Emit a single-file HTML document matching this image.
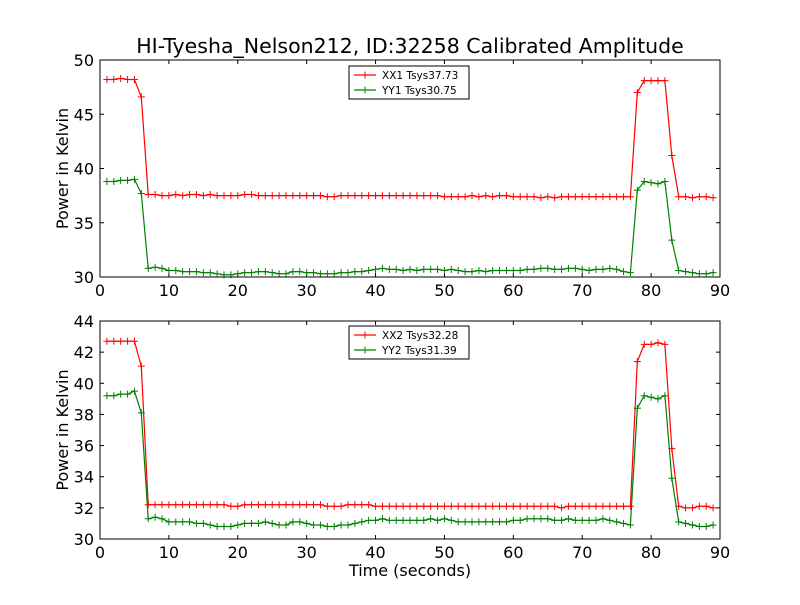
<!DOCTYPE html>
<html><head><meta charset="utf-8"><style>
body{margin:0;background:#fff}
svg{font-family:"DejaVu Sans","Liberation Sans",sans-serif}
</style></head><body>
<svg id="c" width="800" height="600"></svg>
<script>
const times = Array.from({length:89},(_,i)=>i+1);
const xx1 = [48.2,48.2,48.3,48.2,48.2,46.6,37.6,37.6,37.5,37.5,37.6,37.5,37.6,37.6,37.5,37.6,37.5,37.5,37.5,37.5,37.6,37.6,37.5,37.5,37.5,37.5,37.5,37.5,37.5,37.5,37.5,37.5,37.4,37.4,37.5,37.5,37.5,37.5,37.5,37.5,37.5,37.5,37.5,37.5,37.5,37.5,37.5,37.5,37.5,37.4,37.4,37.4,37.4,37.5,37.4,37.5,37.4,37.5,37.5,37.4,37.4,37.4,37.4,37.3,37.4,37.3,37.4,37.4,37.4,37.4,37.4,37.4,37.4,37.4,37.4,37.4,37.4,47.0,48.1,48.1,48.1,48.1,41.2,37.4,37.4,37.3,37.4,37.4,37.3];
const yy1 = [38.8,38.8,38.9,38.9,39.0,37.7,30.8,30.9,30.8,30.6,30.6,30.5,30.5,30.5,30.4,30.4,30.3,30.2,30.2,30.3,30.4,30.4,30.5,30.5,30.4,30.3,30.3,30.5,30.5,30.4,30.4,30.3,30.3,30.3,30.4,30.4,30.5,30.5,30.6,30.7,30.8,30.7,30.7,30.6,30.7,30.6,30.7,30.7,30.7,30.6,30.7,30.6,30.5,30.5,30.6,30.5,30.6,30.6,30.6,30.6,30.6,30.7,30.7,30.8,30.8,30.7,30.7,30.8,30.8,30.7,30.6,30.7,30.7,30.8,30.7,30.5,30.4,38.0,38.8,38.7,38.6,38.8,33.4,30.6,30.5,30.4,30.3,30.3,30.4];
const xx2 = [42.7,42.7,42.7,42.7,42.7,41.1,32.2,32.2,32.2,32.2,32.2,32.2,32.2,32.2,32.2,32.2,32.2,32.2,32.1,32.1,32.2,32.2,32.2,32.2,32.2,32.2,32.2,32.2,32.2,32.2,32.2,32.2,32.1,32.1,32.1,32.2,32.2,32.2,32.2,32.1,32.1,32.1,32.1,32.1,32.1,32.1,32.1,32.1,32.1,32.1,32.1,32.1,32.1,32.1,32.1,32.1,32.1,32.1,32.1,32.1,32.1,32.1,32.1,32.1,32.1,32.1,32.0,32.1,32.1,32.1,32.1,32.1,32.1,32.1,32.1,32.1,32.1,41.4,42.5,42.5,42.6,42.5,35.8,32.1,32.0,32.0,32.1,32.1,32.0];
const yy2 = [39.2,39.2,39.3,39.3,39.5,38.1,31.3,31.4,31.3,31.1,31.1,31.1,31.1,31.0,31.0,30.9,30.8,30.8,30.8,30.9,31.0,31.0,31.0,31.1,31.0,30.9,30.9,31.1,31.1,31.0,30.9,30.9,30.8,30.8,30.9,30.9,31.0,31.1,31.2,31.2,31.3,31.2,31.2,31.2,31.2,31.2,31.2,31.3,31.2,31.3,31.2,31.1,31.1,31.1,31.1,31.1,31.1,31.1,31.1,31.2,31.2,31.3,31.3,31.3,31.3,31.2,31.2,31.3,31.2,31.2,31.2,31.2,31.3,31.2,31.1,31.0,30.9,38.4,39.2,39.1,39.0,39.2,33.9,31.1,31.0,30.9,30.8,30.8,30.9];
const xTicks = [0,10,20,30,40,50,60,70,80,90];
const yTicks1 = [30,35,40,45,50];
const yTicks2 = [30,32,34,36,38,40,42,44];
const legend1 = ["XX1 Tsys37.73","YY1 Tsys30.75"];
const legend2 = ["XX2 Tsys32.28","YY2 Tsys31.39"];

const svg = document.getElementById('c');
const NS = "http://www.w3.org/2000/svg";
function mk(tag, attrs, parent){const e=document.createElementNS(NS,tag);for(const k in attrs)e.setAttribute(k,attrs[k]);(parent||svg).appendChild(e);return e;}

const title = mk('text',{x:410,y:53,'text-anchor':'middle','font-size':20.5});
title.textContent = 'HI-Tyesha_Nelson212, ID:32258 Calibrated Amplitude';



function panel(name, top, bottom, ymin, ymax, yTicks, s1, s2, leg, legX, legY, xlabel){
  const L=100,R=720;
  const xs=v=>L+(v-0)/(90-0)*(R-L);
  const ys=v=>bottom-(v-ymin)/(ymax-ymin)*(bottom-top);
  const g = mk('g',{});
  
  
  mk('rect',{x:L,y:top,width:R-L,height:bottom-top,fill:'#fff',stroke:'none'},g);
  xTicks.forEach(t=>{
    const x=xs(t);
    mk('line',{x1:x,x2:x,y1:bottom,y2:bottom-4,stroke:'#000'},g);
    mk('line',{x1:x,x2:x,y1:top,y2:top+4,stroke:'#000'},g);
    const tx=mk('text',{x:x,y:bottom+19,'text-anchor':'middle','font-size':16},g);
    tx.textContent=t;
    
    
  });
  yTicks.forEach(t=>{
    const y=ys(t);
    mk('line',{x1:L,x2:L+4,y1:y,y2:y,stroke:'#000'},g);
    mk('line',{x1:R,x2:R-4,y1:y,y2:y,stroke:'#000'},g);
    const tx=mk('text',{x:L-6,y:y+6,'text-anchor':'end','font-size':16},g);
    tx.textContent=t;
    
    
  });
  const yl=mk('text',{x:0,y:0,'text-anchor':'middle','font-size':16,transform:`translate(68,${(top+bottom)/2}) rotate(-90)`},g);
  yl.textContent='Power in Kelvin';
  
  
  if(xlabel){
    const xl=mk('text',{x:(L+R)/2,y:bottom+37,'text-anchor':'middle','font-size':16},g);
    xl.textContent=xlabel;
    
    
  }
  [[s1,'#ff0000','series-xx'],[s2,'#008000','series-yy']].forEach(([s,col,nm])=>{
    const sg=mk('g',{},g);
    
    
    const pts=times.map((t,i)=>xs(t).toFixed(1)+','+ys(s[i]).toFixed(1)).join(' ');
    mk('polyline',{points:pts,fill:'none',stroke:col,'stroke-width':1.2},sg);
    let d='';
    times.forEach((t,i)=>{const x=xs(t),y=ys(s[i]);d+=`M${x-3.5},${y}H${x+3.5}M${x},${y-3.5}V${y+3.5}`;});
    mk('path',{d:d,stroke:col,'stroke-width':1,fill:'none'},sg);
  });
  mk('rect',{x:L,y:top,width:R-L,height:bottom-top,fill:'none',stroke:'#000'},g);
  const lg=mk('g',{},g);
  
  
  mk('rect',{x:legX,y:legY,width:120,height:33,fill:'#fff',stroke:'#000'},lg);
  [['#ff0000',leg[0]],['#008000',leg[1]]].forEach(([col,lab],i)=>{
    const y=legY+9+i*15;
    const e=mk('g',{},lg);
    
    
    mk('line',{x1:legX+5,x2:legX+27,y1:y,y2:y,stroke:col,'stroke-width':1.2},e);
    mk('path',{d:`M${legX+12.5},${y}h7M${legX+16},${y-3.5}v7`,stroke:col},e);
    const t=mk('text',{x:legX+33,y:y+4,'font-size':10.5},e);
    t.textContent=lab;
  });
}
panel('top-panel',60,277,30,50,yTicks1,xx1,yy1,legend1,349,66,null);
panel('bottom-panel',321,539,30,44,yTicks2,xx2,yy2,legend2,349,326,'Time (seconds)');
</script>
</body></html>
